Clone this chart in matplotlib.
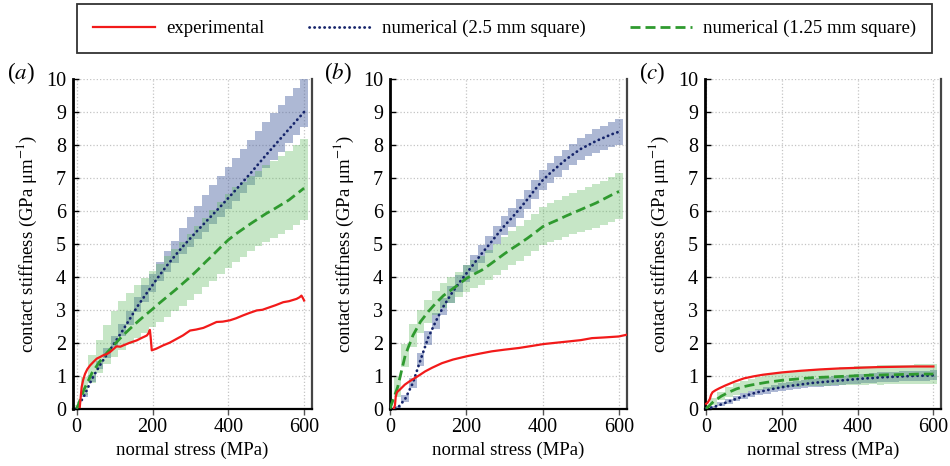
"""Contact stiffness vs normal stress: experiment against two mesh sizes.

Three panels (a)-(c), each with the measured curve and the numerical
predictions for the 2.5 mm and 1.25 mm square meshes, with their spread
drawn as stacked vertical bars.
"""

import matplotlib

matplotlib.use("Agg")
import matplotlib.pyplot as plt
import numpy as np

OUT_PATH = "out.png"

# numerical results are sampled every 20 MPa
STRESS = np.arange(0, 601, 20)

# ---------------------------------------------------------------- panel (a)
exp_a_x = [8, 10, 13, 17, 22, 28, 35, 45, 53, 62, 70, 80, 88, 96, 105, 115,
           123, 140, 158, 172, 185, 190, 193, 195, 198, 210, 228, 245, 264,
           280, 299, 315, 334, 350, 369, 385, 404, 420, 439, 455, 475, 490,
           510, 525, 545, 560, 580, 588, 593, 597, 600]
exp_a_y = [0.05, 0.3, 0.66, 0.88, 1.06, 1.2, 1.31, 1.43, 1.52, 1.57, 1.62,
           1.66, 1.72, 1.8, 1.89, 1.88, 1.92, 2.0, 2.07, 2.15, 2.22, 2.3,
           2.39, 2.17, 1.77, 1.82, 1.92, 2.0, 2.12, 2.22, 2.37, 2.4, 2.45,
           2.53, 2.63, 2.64, 2.68, 2.74, 2.83, 2.9, 2.98, 3.0, 3.08, 3.14,
           3.23, 3.26, 3.33, 3.38, 3.43, 3.35, 3.28]

coarse_a = [0, 0.4, 0.9, 1.3, 1.65, 2.0, 2.35, 2.72, 3.1, 3.43, 3.75, 4.07,
            4.37, 4.65, 4.92, 5.17, 5.42, 5.66, 5.9, 6.14, 6.39, 6.64, 6.9,
            7.16, 7.43, 7.7, 7.96, 8.22, 8.48, 8.74, 9.0]
coarse_a_up = [0.05, 0.08, 0.12, 0.15, 0.18, 0.2, 0.22, 0.25, 0.28, 0.31,
               0.34, 0.37, 0.4, 0.45, 0.55, 0.65, 0.74, 0.82, 0.88, 0.92,
               0.95, 0.97, 0.98, 0.99, 1.0, 1.0, 1.0, 1.0, 1.0, 1.0, 1.0]
coarse_a_dn = [0.0, 0.06, 0.08, 0.1, 0.12, 0.14, 0.15, 0.17, 0.18, 0.19,
               0.2, 0.21, 0.22, 0.23, 0.24, 0.26, 0.27, 0.29, 0.3, 0.32,
               0.34, 0.35, 0.37, 0.38, 0.39, 0.4, 0.41, 0.42, 0.43, 0.44, 0.45]

fine_a = [0, 0.6, 1.08, 1.42, 1.7, 1.95, 2.2, 2.42, 2.63, 2.83, 3.02, 3.22,
          3.41, 3.6, 3.8, 4.0, 4.22, 4.45, 4.67, 4.9, 5.12, 5.3, 5.46, 5.62,
          5.77, 5.92, 6.05, 6.19, 6.33, 6.51, 6.69]
fine_a_up = [0.1, 0.35, 0.55, 0.65, 0.85, 1.0, 1.08, 1.1, 1.12, 1.14, 1.15,
             1.18, 1.22, 1.24, 1.26, 1.3, 1.32, 1.34, 1.36, 1.38, 1.4, 1.41,
             1.42, 1.43, 1.45, 1.46, 1.47, 1.48, 1.49, 1.49, 1.5]
fine_a_dn = [0.0, 0.2, 0.3, 0.35, 0.35, 0.38, 0.42, 0.45, 0.5, 0.52, 0.55,
             0.6, 0.62, 0.65, 0.68, 0.7, 0.74, 0.77, 0.8, 0.82, 0.84, 0.85,
             0.85, 0.85, 0.85, 0.85, 0.88, 0.9, 0.92, 0.95, 0.97]

# ---------------------------------------------------------------- panel (b)
exp_b_x = [10, 13, 15, 17.5, 20, 26, 39, 50, 61, 75, 92, 110, 136, 165, 201,
           235, 267, 300, 337, 370, 402, 435, 468, 500, 529, 560, 599, 619]
exp_b_y = [0.0, 0.1, 0.35, 0.47, 0.52, 0.58, 0.73, 0.82, 0.9, 1.0, 1.13,
           1.24, 1.38, 1.49, 1.59, 1.67, 1.74, 1.79, 1.84, 1.9, 1.96, 2.0,
           2.04, 2.08, 2.14, 2.16, 2.19, 2.24]

coarse_b = [0, 0.02, 0.3, 0.78, 1.48, 2.15, 2.65, 3.1, 3.47, 3.8, 4.1, 4.4,
            4.7, 4.98, 5.27, 5.55, 5.8, 6.07, 6.35, 6.65, 6.93, 7.15, 7.35,
            7.55, 7.72, 7.88, 8.0, 8.12, 8.22, 8.32, 8.4]
coarse_b_err = [0.02, 0.05, 0.1, 0.15, 0.2, 0.22, 0.24, 0.25, 0.25, 0.25,
                0.26, 0.26, 0.27, 0.27, 0.28, 0.28, 0.28, 0.29, 0.29, 0.3,
                0.3, 0.3, 0.31, 0.31, 0.32, 0.33, 0.34, 0.35, 0.36, 0.38, 0.4]

fine_b = [0, 0.65, 1.62, 2.22, 2.64, 2.94, 3.2, 3.43, 3.6, 3.77, 3.95, 4.08,
          4.2, 4.36, 4.53, 4.7, 4.86, 5.01, 5.17, 5.34, 5.52, 5.63, 5.73,
          5.84, 5.94, 6.04, 6.14, 6.24, 6.36, 6.48, 6.59]
fine_b_up = [0.05, 0.3, 0.35, 0.35, 0.35, 0.35, 0.36, 0.37, 0.38, 0.39, 0.4,
             0.42, 0.44, 0.46, 0.48, 0.5, 0.52, 0.54, 0.56, 0.58, 0.6, 0.6,
             0.6, 0.6, 0.6, 0.6, 0.58, 0.57, 0.56, 0.55, 0.55]
fine_b_dn = [0.0, 0.3, 0.35, 0.35, 0.35, 0.35, 0.36, 0.37, 0.38, 0.39, 0.4,
             0.42, 0.44, 0.46, 0.48, 0.5, 0.51, 0.52, 0.54, 0.55, 0.56, 0.58,
             0.6, 0.62, 0.65, 0.68, 0.72, 0.75, 0.78, 0.82, 0.85]

# ---------------------------------------------------------------- panel (c)
exp_c_x = [0, 3, 6, 10, 13, 17, 25, 35, 50, 75, 100, 125, 150, 200, 250,
           300, 350, 400, 450, 500, 550, 600]
exp_c_y = [0.15, 0.17, 0.22, 0.3, 0.42, 0.5, 0.56, 0.62, 0.7, 0.82, 0.92,
           0.98, 1.03, 1.1, 1.15, 1.19, 1.22, 1.24, 1.26, 1.27, 1.28, 1.28]

coarse_c = [0, 0.05, 0.13, 0.22, 0.3, 0.38, 0.45, 0.51, 0.56, 0.61, 0.65,
            0.69, 0.72, 0.75, 0.78, 0.8, 0.82, 0.84, 0.86, 0.88, 0.9, 0.92,
            0.93, 0.95, 0.96, 0.97, 0.98, 0.99, 1.0, 1.0, 1.01]
coarse_c_err = [0.02, 0.04, 0.06, 0.07, 0.08, 0.09, 0.1, 0.1, 0.11, 0.11,
                0.12, 0.12, 0.12, 0.13, 0.13, 0.13, 0.13, 0.14, 0.14, 0.14,
                0.14, 0.14, 0.15, 0.15, 0.15, 0.15, 0.15, 0.15, 0.15, 0.15,
                0.15]

fine_c = [0, 0.22, 0.38, 0.5, 0.6, 0.67, 0.72, 0.76, 0.8, 0.83, 0.86, 0.88,
          0.9, 0.92, 0.94, 0.95, 0.96, 0.97, 0.98, 0.99, 1.0, 1.01, 1.02,
          1.02, 1.03, 1.03, 1.04, 1.04, 1.05, 1.05, 1.05]
fine_c_err = [0.05, 0.1, 0.13, 0.15, 0.17, 0.18, 0.19, 0.2, 0.21, 0.22,
              0.22, 0.23, 0.24, 0.24, 0.25, 0.25, 0.26, 0.26, 0.27, 0.27,
              0.28, 0.28, 0.28, 0.29, 0.29, 0.29, 0.3, 0.3, 0.3, 0.3, 0.3]

PANELS = [
    {"tag": "a", "xlim": (-10, 620), "left": 0.0768, "width": 0.2513,
     "exp": (exp_a_x, exp_a_y),
     "coarse": (coarse_a, coarse_a_dn, coarse_a_up),
     "fine": (fine_a, fine_a_dn, fine_a_up)},
    {"tag": "b", "xlim": (0, 620), "left": 0.4105, "width": 0.2492,
     "exp": (exp_b_x, exp_b_y),
     "coarse": (coarse_b, coarse_b_err, coarse_b_err),
     "fine": (fine_b, fine_b_dn, fine_b_up)},
    {"tag": "c", "xlim": (-3, 620), "left": 0.7421, "width": 0.2484,
     "exp": (exp_c_x, exp_c_y),
     "coarse": (coarse_c, coarse_c_err, coarse_c_err),
     "fine": (fine_c, fine_c_err, fine_c_err)},
]

RED = "#f21a1a"
NAVY = "#15246b"
GREEN = "#2f9a2f"
NAVY_BAND = "#4a62a0"
GREEN_BAND = "#5cb85c"

plt.rcParams["font.family"] = "serif"
plt.rcParams["font.serif"] = ["Liberation Serif", "DejaVu Serif"]
plt.rcParams["mathtext.fontset"] = "stix"


def draw_band(ax, mean, dn, up, color, alpha):
    mean = np.asarray(mean)
    lo = mean - np.asarray(dn)
    hi = mean + np.asarray(up)
    ax.bar(STRESS, hi - lo, bottom=lo, width=20, color=color, alpha=alpha,
           linewidth=0, zorder=2)


def style_axes(ax, xlim):
    ax.set_xlim(*xlim)
    ax.set_ylim(0, 10)
    ax.set_xticks([0, 200, 400, 600])
    ax.set_yticks(range(0, 11))
    ax.grid(True, color="#c4c4c4", linestyle=":", linewidth=0.9, zorder=0)
    ax.set_axisbelow(True)
    ax.spines["top"].set_visible(False)
    ax.spines["left"].set_linewidth(2.0)
    ax.spines["bottom"].set_linewidth(1.6)
    ax.spines["right"].set_color("#454545")
    ax.spines["right"].set_linewidth(1.6)
    ax.tick_params(axis="y", direction="in", length=4, width=1, pad=5,
                   labelsize=14.5)
    ax.tick_params(axis="x", direction="out", length=4, width=1,
                   color="#555555", pad=3, labelsize=14.5)
    ax.set_xlabel("normal stress (MPa)", fontsize=13.5, labelpad=3)
    ax.set_ylabel(r"contact stiffness (GPa μm$^{-1}$)", fontsize=13.5,
                  labelpad=5)


fig = plt.figure(figsize=(9.5, 4.66), dpi=100)

handles = None
for p in PANELS:
    ax = fig.add_axes([p["left"], 0.123, p["width"], 0.7075])
    style_axes(ax, p["xlim"])

    draw_band(ax, *p["coarse"], NAVY_BAND, 0.45)
    draw_band(ax, *p["fine"], GREEN_BAND, 0.35)

    (l_coarse,) = ax.plot(STRESS, p["coarse"][0], color=NAVY, lw=2.0,
                          linestyle=(0, (0.1, 1.7)), dash_capstyle="round",
                          zorder=4, label="numerical (2.5 mm square)")
    (l_fine,) = ax.plot(STRESS, p["fine"][0], color=GREEN, lw=2.0,
                        linestyle=(0, (3.6, 1.8)), zorder=4,
                        label="numerical (1.25 mm square)")
    (l_exp,) = ax.plot(*p["exp"], color=RED, lw=1.6, zorder=5,
                       label="experimental")
    if handles is None:
        handles = [l_exp, l_coarse, l_fine]

    fig.text(p["left"] - 0.069, 0.843, rf"(${p['tag']}$)", fontsize=16.5,
             va="center", ha="left")

leg = fig.legend(handles=handles, loc="lower left",
                 bbox_to_anchor=(0.081, 0.886, 0.9, 0.103), mode="expand",
                 ncol=3, fontsize=13.5, frameon=True, fancybox=False,
                 handlelength=3.3, handletextpad=0.6, borderpad=0.85,
                 borderaxespad=0, columnspacing=2.0)
leg.get_frame().set_edgecolor("black")
leg.get_frame().set_linewidth(1.3)

fig.savefig(OUT_PATH, dpi=100)
plt.close(fig)
